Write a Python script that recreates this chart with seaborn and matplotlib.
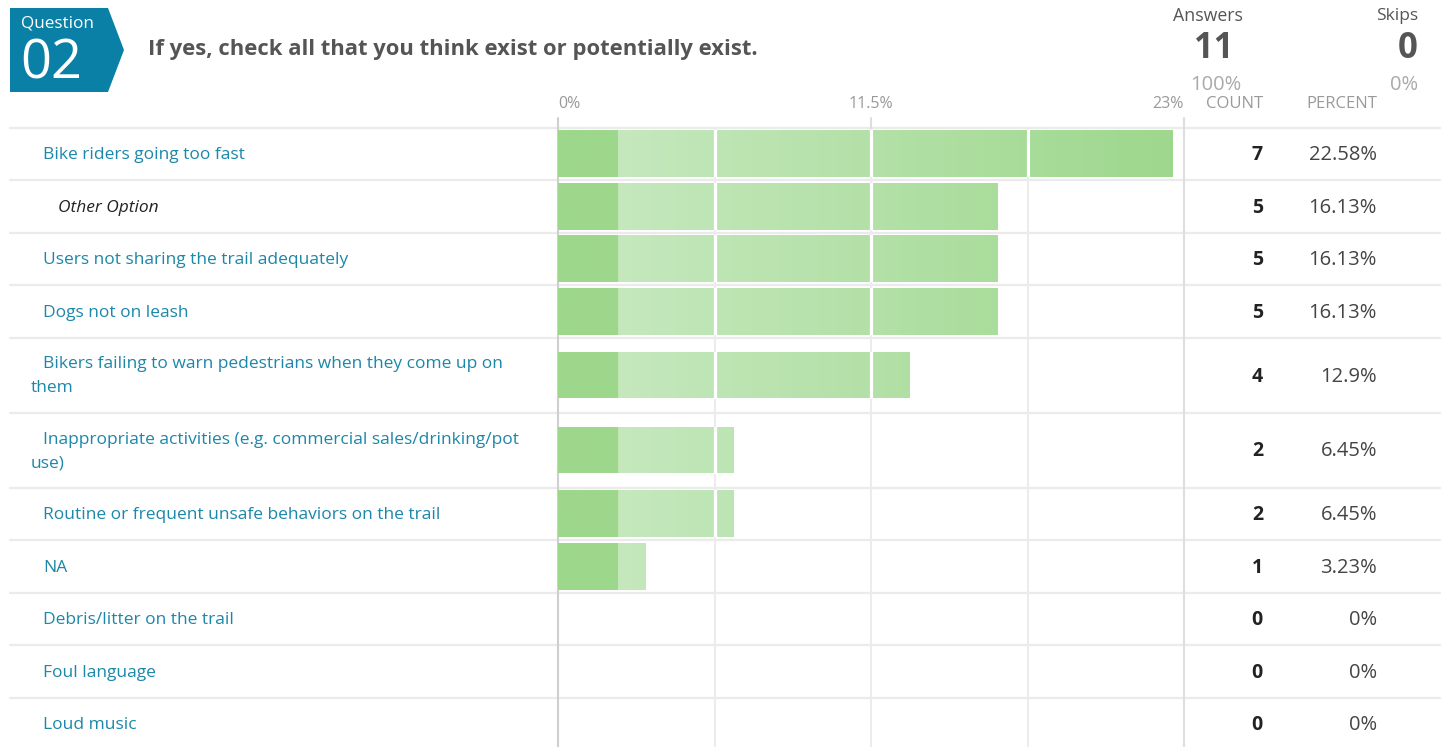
import numpy as np
import pandas as pd
import matplotlib
matplotlib.use("Agg")
import matplotlib.pyplot as plt
from matplotlib.colors import to_rgb
from matplotlib.patches import Polygon
import seaborn as sns

# survey data
labels = [
    "Bike riders going too fast",
    "Other Option",
    "Users not sharing the trail adequately",
    "Dogs not on leash",
    "Bikers failing to warn pedestrians when they come up on\nthem",
    "Inappropriate activities (e.g. commercial sales/drinking/pot\nuse)",
    "Routine or frequent unsafe behaviors on the trail",
    "NA",
    "Debris/litter on the trail",
    "Foul language",
    "Loud music",
]
is_other = [False, True, False, False, False, False, False, False, False, False, False]
counts = [7, 5, 5, 5, 4, 2, 2, 1, 0, 0, 0]
percents = [22.58, 16.13, 16.13, 16.13, 12.9, 6.45, 6.45, 3.23, 0, 0, 0]
percent_labels = ["22.58%", "16.13%", "16.13%", "16.13%", "12.9%", "6.45%",
                  "6.45%", "3.23%", "0%", "0%", "0%"]
tick_values = [0, 11.5, 23]
tick_labels = ["0%", "11.5%", "23%"]
question_no = "02"
question = "If yes, check all that you think exist or potentially exist."
answers = 11
answers_pct = "100%"
skips = 0
skips_pct = "0%"

sns.set_theme(style="white")
plt.rcParams["font.family"] = ["Open Sans", "DejaVu Sans"]

W, H = 1453, 747
fig = plt.figure(figsize=(W / 100, H / 100), dpi=100)

# background axes in pixel coordinates (y downwards)
bg = fig.add_axes([0, 0, 1, 1])
bg.set_xlim(0, W)
bg.set_ylim(H, 0)
bg.axis("off")

# row layout from number of label lines
top = 127.5
n_lines = [len(l.split("\n")) for l in labels]
heights = [52.5 + 22.5 * (n - 1) for n in n_lines]
row_tops = top + np.concatenate([[0], np.cumsum(heights)[:-1]])
centers = row_tops + np.array(heights) / 2

df = pd.DataFrame({"label": labels, "count": counts, "percent": percents,
                   "ypos": centers})

# bar axes: x in percent, y in pixel rows
x0, x1 = 558, 1184
ax = fig.add_axes([x0 / W, 0, (x1 - x0) / W, (H - top) / H])
ax.patch.set_alpha(0)

sns.barplot(data=df, x="percent", y="ypos", orient="h", native_scale=True,
            width=47 / 52.5, color="#b0e0a3", ax=ax, zorder=2)
ax.set_xlim(0, 23)
ax.set_ylim(H, top)
for s in ax.spines.values():
    s.set_visible(False)
ax.set_xticks([])
ax.set_yticks([])
ax.set_xlabel("")
ax.set_ylabel("")

# gradient fill clipped to each bar
N = 626
xs = np.linspace(0, 23, N)
c_dark = np.array(to_rgb("#9dd78c"))
c_light = np.array(to_rgb("#c5e8bd"))
block = 2.2
t = np.clip((xs - block) / (23 - block), 0, 1)[:, None]
grad = c_light * (1 - t) + c_dark * t
grad[xs < block] = c_dark
img = np.repeat(grad[None, :, :], 2, axis=0)

grid_minor = [5.75, 11.5, 17.25]
for p in list(ax.patches):
    p.set_facecolor("none")
    p.set_edgecolor("none")
    if p.get_width() <= 0:
        continue
    im = ax.imshow(img, extent=(0, 23, H, top), aspect="auto", zorder=2,
                   interpolation="bilinear")
    im.set_clip_path(p)
    for g in grid_minor:
        ln = ax.axvline(g, color="white", lw=2.3, zorder=3)
        ln.set_clip_path(p)
ax.set_xlim(0, 23)
ax.set_ylim(H, top)

# gridlines under the bars
for g in grid_minor:
    ax.axvline(g, color="#ececec", lw=1.5, zorder=0)
for g, c in [(0, "#cfcfcf"), (23, "#dedede")]:
    ax.plot([g, g], [118, H], color=c, lw=1.5, zorder=1, clip_on=False)
ax.plot([11.5, 11.5], [118, top], color="#dedede", lw=1.5, clip_on=False)

# tick labels
for v, s, ha in zip(tick_values, tick_labels, ["left", "center", "right"]):
    ax.text(v, 104, s, ha=ha, va="center", fontsize=11.5, color="#9a9a9a",
            clip_on=False)

# row separators
for y in list(row_tops) + [top + sum(heights)]:
    bg.plot([10, 1440], [y, y], color="#ebebeb", lw=1.6, zorder=0)

# labels and numbers
for i, lab in enumerate(labels):
    lines = lab.split("\n")
    y0 = centers[i] + 1.5 - 12 * (len(lines) - 1)
    for j, line in enumerate(lines):
        if is_other[i]:
            bg.text(58, y0, line, ha="left", va="center", fontsize=12.5,
                    style="italic", color="#222222")
        else:
            bg.text(43 if j == 0 else 31, y0 + 24 * j, line, ha="left",
                    va="center", fontsize=12.5, color="#1b87a9")
    bg.text(1263, centers[i] + 1.5, str(counts[i]), ha="right", va="center",
            fontsize=14, fontweight="bold", color="#222222")
    bg.text(1377, centers[i] + 1.5, percent_labels[i], ha="right",
            va="center", fontsize=14.5, color="#444444")

bg.text(1263, 104, "COUNT", ha="right", va="center", fontsize=12,
        color="#9a9a9a")
bg.text(1377, 104, "PERCENT", ha="right", va="center", fontsize=12,
        color="#9a9a9a")

# header
bg.add_patch(Polygon([(10, 8), (108, 8), (124, 50), (108, 92), (10, 92)],
                     closed=True, color="#0a80a6", lw=0))
bg.text(21, 24, "Question", ha="left", va="center", fontsize=12.3,
        color="white")
bg.text(20, 64, question_no, ha="left", va="center", fontsize=39,
        color="white")
bg.text(148, 50, question, ha="left", va="center", fontsize=15.8,
        fontweight="bold", color="#555555")

bg.text(1208, 16, "Answers", ha="center", va="center", fontsize=12.8,
        color="#555555")
bg.text(1214, 49, str(answers), ha="center", va="center", fontsize=25,
        color="#555555", fontweight="bold")
bg.text(1216, 85, answers_pct, ha="center", va="center", fontsize=14.5,
        color="#aaaaaa")
bg.text(1418, 16, "Skips", ha="right", va="center", fontsize=12.5,
        color="#555555")
bg.text(1418, 49, str(skips), ha="right", va="center", fontsize=25,
        color="#555555", fontweight="bold")
bg.text(1418, 85, skips_pct, ha="right", va="center", fontsize=14.5,
        color="#aaaaaa")

fig.savefig("out.png", dpi=100, facecolor="white")
